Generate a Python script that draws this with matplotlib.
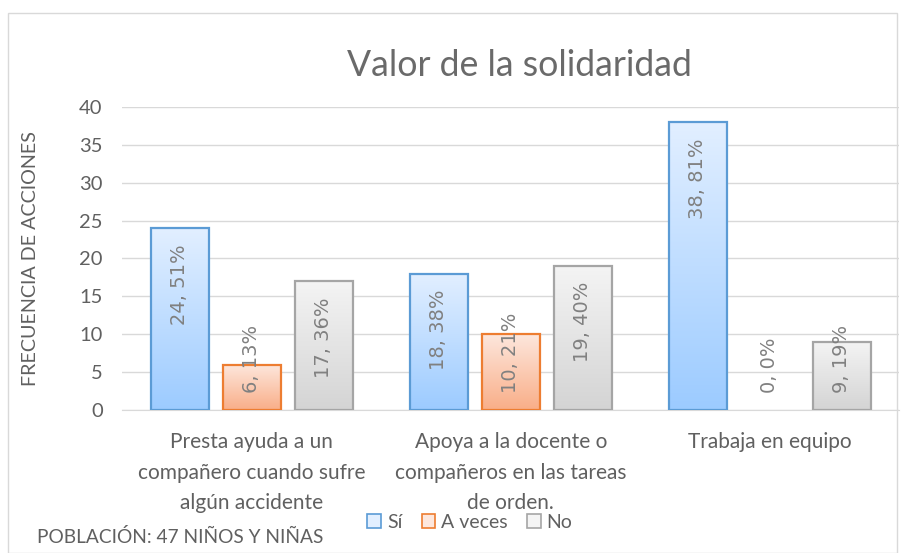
import matplotlib
matplotlib.use("Agg")
import matplotlib.pyplot as plt
import numpy as np
from matplotlib.colors import LinearSegmentedColormap
from matplotlib.patches import Rectangle, Patch

categories = ["Presta ayuda a un\ncompañero cuando sufre\nalgún accidente",
              "Apoya a la docente o\ncompañeros en las tareas\nde orden.",
              "Trabaja en equipo"]
series_names = ["Sí", "A veces", "No"]
si_vals = [24, 18, 38]
aveces_vals = [6, 10, 0]
no_vals = [17, 19, 9]
si_pct = ["51%", "38%", "81%"]
aveces_pct = ["13%", "21%", "0%"]
no_pct = ["36%", "40%", "19%"]
yticks = [0, 5, 10, 15, 20, 25, 30, 35, 40]

title = "Valor de la solidaridad"
ylabel = "FRECUENCIA DE ACCIONES"
note = "POBLACIÓN: 47 NIÑOS Y NIÑAS"

edge_colors = ["#5B9BD5", "#ED7D31", "#A5A5A5"]
grad_top = ["#E2EFFF", "#FDE7DD", "#F4F4F4"]
grad_bot = ["#9CCBFF", "#F9AE88", "#D4D4D4"]
txt_gray = "#606060"
lbl_gray = "#808080"

plt.rcParams['font.family'] = ['Lato', 'DejaVu Sans']

fig = plt.figure(figsize=(9.12, 5.53), dpi=100)
ax = fig.add_axes([0.134, 0.2586, 0.852, 0.548])

# chart frame
fig.patches.append(Rectangle((8/912, 0), 889/912, 1 - 13/553, transform=fig.transFigure,
                             fill=False, edgecolor="#D9D9D9", lw=1.0, zorder=0))

x = np.arange(len(categories))
width = 0.224
step = 0.278
all_vals = [si_vals, aveces_vals, no_vals]
all_pcts = [si_pct, aveces_pct, no_pct]

for i, (vals, pcts) in enumerate(zip(all_vals, all_pcts)):
    bars = ax.bar(x + (i - 1) * step, vals, width, facecolor="none",
                  edgecolor=edge_colors[i], linewidth=1.6, zorder=3)
    cmap = LinearSegmentedColormap.from_list(f"g{i}", [grad_bot[i], grad_top[i]])
    grad = np.linspace(0, 1, 256).reshape(-1, 1)
    for b, v, p in zip(bars, vals, pcts):
        if v > 0:
            ax.imshow(grad, extent=[b.get_x(), b.get_x() + b.get_width(), 0, v],
                      origin="lower", aspect="auto", cmap=cmap, zorder=2)
        else:
            b.set_visible(False)
        cx = b.get_x() + b.get_width() / 2
        label = f"{v}, {p}"
        if v >= 13:
            ax.text(cx, v - 2.1, label, rotation=90, ha="center", va="top",
                    color=lbl_gray, fontsize=14, family="DejaVu Sans", zorder=4)
        else:
            ax.text(cx, 2.2, label, rotation=90, ha="center", va="bottom",
                    color=lbl_gray, fontsize=14, family="DejaVu Sans", zorder=4)

ax.set_xlim(-0.5, 2.5)
ax.set_ylim(0, 40)
ax.set_yticks(yticks)
ax.set_yticklabels([str(t) for t in yticks], color=txt_gray, fontsize=14.5)
ax.set_xticks(x)
ax.set_xticklabels(categories, color=txt_gray, fontsize=15, linespacing=1.65)
ax.tick_params(axis="both", length=0)
ax.tick_params(axis="y", pad=14)
ax.tick_params(axis="x", pad=16)
ax.grid(axis="y", color="#D9D9D9", lw=1.0, zorder=0)
ax.set_axisbelow(True)
for s in ["left", "right", "top"]:
    ax.spines[s].set_visible(False)
ax.spines["bottom"].set_color("#D9D9D9")
ax.set_ylabel(ylabel, color=txt_gray, fontsize=14.2)
ax.yaxis.set_label_coords(-0.107, 0.5)

fig.text(519/912, 1 - 66/553, title, ha="center", va="center", color="#6A6A6A", fontsize=25.7)
fig.text(37/912, 1 - 537/553, note, ha="left", va="center", color=txt_gray, fontsize=13.8)

handles = [Patch(facecolor=grad_top[i], edgecolor=edge_colors[i], lw=1.2, label=series_names[i])
           for i in range(3)]
fig.legend(handles=handles, loc="center", bbox_to_anchor=(470/912, 1 - 522/553), ncol=3,
           frameon=False, fontsize=14, handlelength=0.7, handleheight=0.7,
           handletextpad=0.3, columnspacing=1.0, labelcolor=txt_gray)

fig.savefig("out.png", dpi=100)
